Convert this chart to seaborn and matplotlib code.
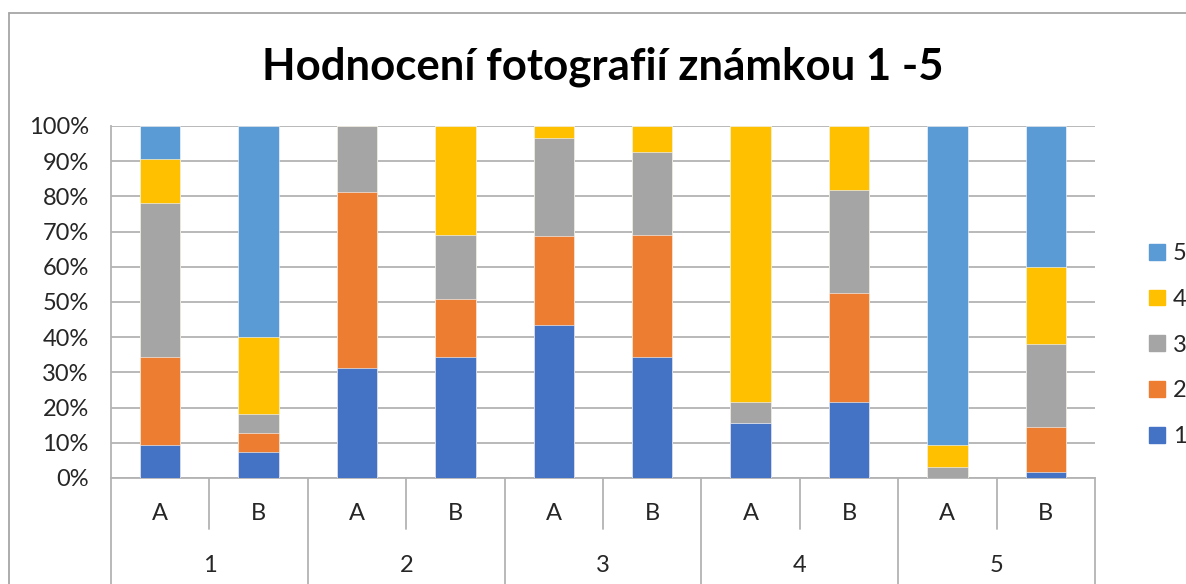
import pandas as pd
import matplotlib
matplotlib.use("Agg")
import matplotlib.pyplot as plt
import matplotlib.patches as mpatches
import matplotlib.transforms as mtransforms
import seaborn as sns

# data: share of each grade (1-5) for each photo group and variant
groups = ["1", "2", "3", "4", "5"]
variants = ["A", "B"]
grades = ["1", "2", "3", "4", "5"]
grade_1 = [9.4, 7.3, 31.3, 34.5, 43.5, 34.4, 15.6, 21.7, 0.0, 1.7]
grade_2 = [25.0, 5.4, 50.0, 16.4, 25.3, 34.7, 0.0, 30.9, 0.0, 12.8]
grade_3 = [43.8, 5.5, 18.7, 18.2, 27.9, 23.4, 6.1, 29.2, 3.0, 23.6]
grade_4 = [12.5, 21.8, 0.0, 30.9, 3.3, 7.5, 78.3, 18.2, 6.5, 21.9]
grade_5 = [9.3, 60.0, 0.0, 0.0, 0.0, 0.0, 0.0, 0.0, 90.5, 40.0]

colors = {"1": "#4472C4", "2": "#ED7D31", "3": "#A5A5A5", "4": "#FFC000", "5": "#5B9BD5"}
grid_col = "#B3B3B3"
fs = 17

slots = [g + v for g in groups for v in variants]
df = pd.DataFrame({"slot": slots, "1": grade_1, "2": grade_2, "3": grade_3,
                   "4": grade_4, "5": grade_5}).set_index("slot")
df = df.div(df.sum(axis=1), axis=0) * 100
cum = df[grades].cumsum(axis=1).reset_index()

sns.set_style("white")
plt.rcParams["font.family"] = ["Lato", "DejaVu Sans"]

fig = plt.figure(figsize=(11.86, 5.84), dpi=100)
ax = fig.add_axes([111 / 1186, 1 - 478 / 584, 984 / 1186, 352 / 584])

# stacked bars: draw cumulative totals from the top grade down
for g in reversed(grades):
    sns.barplot(data=cum, x="slot", y=g, order=slots, color=colors[g],
                width=0.41, ax=ax, saturation=1, edgecolor="white", linewidth=0.4,
                zorder=3)

ax.set_ylim(0, 100)
ax.set_xlim(-0.5, len(slots) - 0.5)
ax.set_yticks(range(0, 101, 10))
ax.set_yticklabels([f"{t}%" for t in range(0, 101, 10)], fontsize=fs)
ax.yaxis.grid(True, color=grid_col, linewidth=1.3, zorder=0)
ax.tick_params(axis="y", length=8, color=grid_col, width=1.3, pad=8)
ax.set_xticks([])
ax.set_xlabel("")
ax.set_ylabel("")
for s in ["top", "right"]:
    ax.spines[s].set_visible(False)
ax.spines["left"].set_color(grid_col)
ax.spines["left"].set_linewidth(1.3)
ax.spines["bottom"].set_color(grid_col)
ax.spines["bottom"].set_linewidth(1.3)

# two-level category axis drawn below the plot
trans = mtransforms.blended_transform_factory(ax.transData, fig.transFigure)
y0 = 1 - 478 / 584
y_sub = 1 - 529 / 584
y_grp = 0.0
for i in range(len(slots) + 1):
    x = i - 0.5
    low = y_grp if i % 2 == 0 else y_sub
    ax.plot([x, x], [y0, low], transform=trans, color=grid_col, lw=1.3,
            clip_on=False)
for i, s in enumerate(slots):
    ax.text(i, 1 - 514 / 584, s[1], transform=trans, ha="center", va="center",
            fontsize=fs)
for j, g in enumerate(groups):
    ax.text(2 * j + 0.5, 1 - 565 / 584, g, transform=trans, ha="center",
            va="center", fontsize=fs)

fig.text(603 / 1186, 1 - 67 / 584, "Hodnocení fotografií známkou 1 -5",
         ha="center", va="center", fontsize=31.5, fontweight="bold", color="black")

# legend
handles = [mpatches.Patch(color=colors[g], label=g) for g in reversed(grades)]
fig.legend(handles=handles, loc="center left", bbox_to_anchor=(1128 / 1186, 1 - 345 / 584),
           frameon=False, fontsize=fs, handlelength=0.65, handleheight=0.65,
           handletextpad=0.35, labelspacing=1.05)

# chart area border (left and top edges visible)
fig.add_artist(plt.Line2D([9 / 1186, 9 / 1186], [0, 1 - 13 / 584],
                          transform=fig.transFigure, color="#A6A6A6", lw=1.3))
fig.add_artist(plt.Line2D([9 / 1186, 1], [1 - 13 / 584, 1 - 13 / 584],
                          transform=fig.transFigure, color="#A6A6A6", lw=1.3))

fig.savefig("out.png", dpi=100)
